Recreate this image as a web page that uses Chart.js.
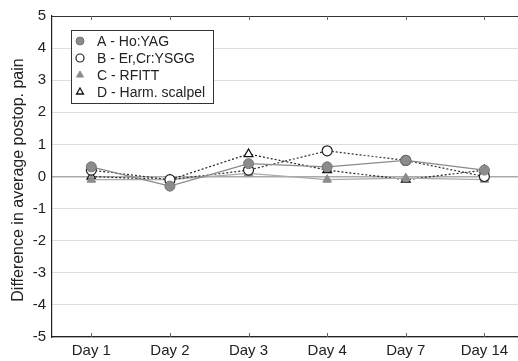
<!DOCTYPE html>
<html>
<head>
<meta charset="utf-8">
<script src="https://cdn.jsdelivr.net/npm/chart.js@4.4.1/dist/chart.umd.min.js"></script>
<style>
  html, body { margin: 0; padding: 0; background: #fff; }
  #wrap { width: 518px; height: 361px; overflow: hidden; }
</style>
</head>
<body>
<div id="wrap"><canvas id="c" width="530" height="361"></canvas></div>
<script>
// data
const days = ['Day 1', 'Day 2', 'Day 3', 'Day 4', 'Day 7', 'Day 14']
const hoYag = [0.3, -0.3, 0.4, 0.3, 0.5, 0.2]
const erCrYsgg = [0.2, -0.1, 0.2, 0.8, 0.5, 0.0]
const rfitt = [-0.1, -0.1, 0.1, -0.1, -0.05, -0.1]
const harmScalpel = [0.0, -0.1, 0.7, 0.2, -0.1, 0.2]
const yTicks = [-5, -4, -3, -2, -1, 0, 1, 2, 3, 4, 5]

const FONT = 'Liberation Sans, Arial, sans-serif'

var data = {
  labels: days,
  datasets: [{
    label: 'A - Ho:YAG',
    data: hoYag,
    borderColor: '#8a8a8a',
    borderWidth: 1.2,
    backgroundColor: '#8c8c8c',
    pointBackgroundColor: '#8c8c8c',
    pointBorderColor: '#777',
    pointStyle: 'circle',
    pointRadius: 5,
    pointBorderWidth: 1
  }, {
    label: 'B - Er,Cr:YSGG',
    data: erCrYsgg,
    borderColor: '#333',
    borderWidth: 1.2,
    borderDash: [2, 2],
    pointBackgroundColor: '#fff',
    pointBorderColor: '#222',
    pointStyle: 'circle',
    pointRadius: 5,
    pointBorderWidth: 1.2
  }, {
    label: 'C - RFITT',
    data: rfitt,
    borderColor: '#aaa',
    borderWidth: 1.2,
    pointBackgroundColor: '#8c8c8c',
    pointBorderColor: '#8c8c8c',
    pointStyle: 'triangle',
    pointRadius: 5,
    pointBorderWidth: 1
  }, {
    label: 'D - Harm. scalpel',
    data: harmScalpel,
    borderColor: '#222',
    borderWidth: 1.2,
    borderDash: [2, 2],
    pointBackgroundColor: '#fff',
    pointBorderColor: '#111',
    pointStyle: 'triangle',
    pointRadius: 5,
    pointBorderWidth: 1.3
  }]
}

// frame, inner tick marks, y title and the boxed legend
const extras = {
  id: 'extras',
  afterDatasetsDraw(chart) {
    const ctx = chart.ctx
    const a = chart.chartArea
    const x = chart.scales.x
    ctx.save()
    ctx.strokeStyle = '#333'
    ctx.lineWidth = 1
    ctx.beginPath()
    ctx.moveTo(a.left, a.top + 0.5)
    ctx.lineTo(a.right, a.top + 0.5)
    ctx.stroke()
    ctx.strokeStyle = '#666'
    days.forEach((d, i) => {
      const px = Math.round(x.getPixelForValue(i)) + 0.5
      ctx.beginPath()
      ctx.moveTo(px, a.bottom)
      ctx.lineTo(px, a.bottom - 4)
      ctx.moveTo(px, a.top)
      ctx.lineTo(px, a.top + 4)
      ctx.stroke()
    })

    // y title
    ctx.fillStyle = '#222'
    ctx.font = '16px ' + FONT
    ctx.textAlign = 'center'
    ctx.textBaseline = 'middle'
    ctx.translate(19, 180)
    ctx.rotate(-Math.PI / 2)
    ctx.fillText('Difference in average postop. pain', 0, 0)
    ctx.restore()

    // legend
    ctx.save()
    ctx.fillStyle = '#fff'
    ctx.fillRect(71, 30, 142, 73)
    ctx.strokeStyle = '#333'
    ctx.lineWidth = 1
    ctx.strokeRect(71.5, 30.5, 142, 73)
    const rows = [41, 58, 75, 92]
    chart.data.datasets.forEach((ds, i) => {
      ctx.fillStyle = ds.pointBackgroundColor
      ctx.strokeStyle = ds.pointBorderColor
      ctx.lineWidth = ds.pointBorderWidth
      Chart.helpers.drawPoint(ctx, {pointStyle: ds.pointStyle, radius: 4, rotation: 0, borderWidth: ds.pointBorderWidth}, 80, rows[i])
      ctx.fillStyle = '#222'
      ctx.font = '14px ' + FONT
      ctx.textAlign = 'left'
      ctx.textBaseline = 'middle'
      ctx.fillText(ds.label, 97, rows[i] + 1)
    })
    ctx.restore()
  }
}

var options = {
  responsive: false,
  animation: false,
  layout: {padding: {top: 16, right: 0, left: 0, bottom: 0}},
  plugins: {legend: {display: false}, tooltip: {enabled: false}},
  scales: {
    x: {
      type: 'category',
      offset: true,
      grid: {display: false, drawTicks: false},
      border: {display: true, color: '#222', width: 1.2},
      ticks: {color: '#222', font: {family: FONT, size: 15}, padding: 5},
      afterFit: s => { s.height = 24 }
    },
    y: {
      min: -5,
      max: 5,
      afterBuildTicks: s => { s.ticks = yTicks.map(v => ({value: v})) },
      grid: {
        drawTicks: false,
        color: c => c.tick && c.tick.value === 0 ? '#aaa' : '#ddd',
        lineWidth: c => c.tick && c.tick.value === 0 ? 1.5 : 1
      },
      border: {display: true, color: '#222', width: 1.2},
      ticks: {color: '#222', font: {family: FONT, size: 15}, padding: 6},
      afterFit: s => { s.width = 52 }
    }
  }
}

new Chart(document.getElementById('c'), {
  type: 'line',
  data: data,
  options: options,
  plugins: [extras]
})
</script>
</body>
</html>
